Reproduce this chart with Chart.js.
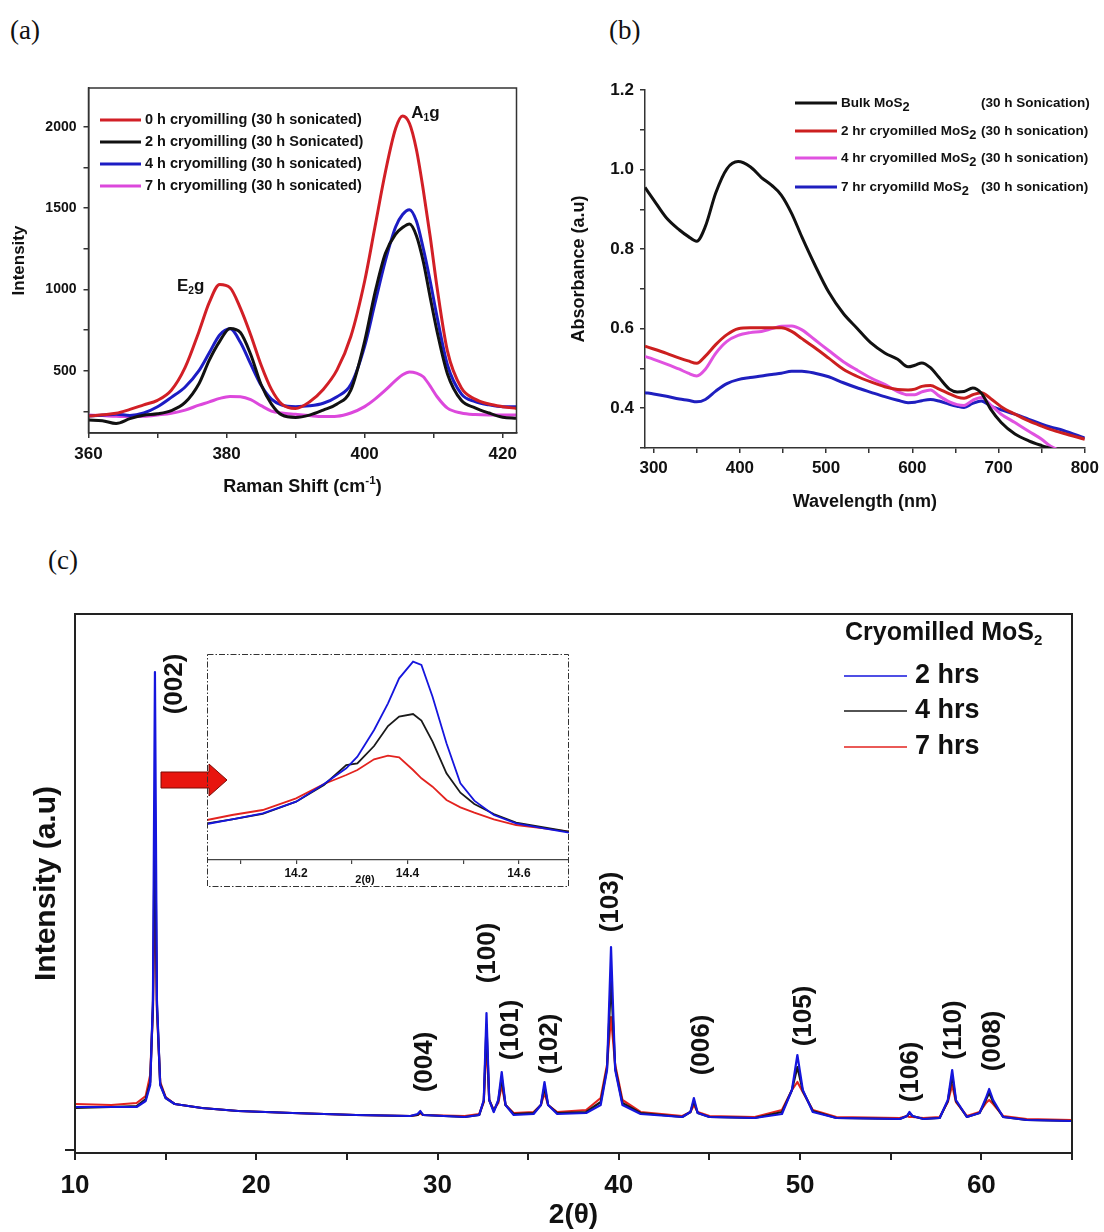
<!DOCTYPE html>
<html>
<head>
<meta charset="utf-8">
<script src="https://cdn.jsdelivr.net/npm/chart.js@4.4.1/dist/chart.umd.min.js"></script>
<style>
  body { margin: 0; background: #fff; width: 1104px; height: 1232px; position: relative; overflow: hidden; }
  canvas { position: absolute; }
  .panel { position: absolute; font-family: 'Liberation Serif', 'Times New Roman', serif; font-size: 27px; line-height: 30px; color: #111; }
</style>
</head>
<body>
<div class="panel" style="left:10px;top:15px">(a)</div>
<div class="panel" style="left:609px;top:15px">(b)</div>
<div class="panel" style="left:48px;top:545px">(c)</div>

<canvas id="ramanChart" width="560" height="460" style="left:0;top:60px"></canvas>
<canvas id="absChart" width="544" height="460" style="left:560px;top:60px"></canvas>
<canvas id="xrdChart" width="1104" height="642" style="left:0;top:590px"></canvas>
<canvas id="insetChart" width="362" height="233" style="left:207px;top:654px"></canvas>

<script>
'use strict';

const FONT = "'Liberation Sans', Arial, sans-serif";
Chart.defaults.font.family = FONT;
Chart.defaults.color = '#111';

/* -------------------- (a) Raman -------------------- */
const ramanShift = [360, 362, 364, 366, 368, 370, 372, 374, 376, 377.5, 379, 380.5, 382, 383.5, 385, 386.5, 388, 390, 392, 394,
  396, 398, 400, 401.5, 403, 404.5, 405.5, 406.5, 407.5, 408.5, 409.5, 410.5, 412, 414, 416, 418, 420, 422];
const raman0h = [221, 229, 238, 262, 290, 318, 380, 520, 740, 920, 1030, 1010, 885, 720, 535, 385, 295, 268, 308, 385,
  505, 710, 1050, 1385, 1720, 1990, 2066, 2020, 1860, 1610, 1324, 1010, 620, 395, 325, 295, 279, 268];
const raman2h = [197, 193, 176, 205, 226, 235, 255, 305, 420, 565, 680, 760, 735, 600, 415, 295, 228, 213, 227, 258,
  295, 380, 680, 980, 1221, 1340, 1380, 1402, 1330, 1170, 950, 740, 480, 318, 272, 240, 214, 207];
const raman4h = [221, 226, 232, 225, 240, 278, 336, 400, 500, 610, 720, 758, 675, 540, 410, 325, 289, 279, 284, 300,
  340, 415, 650, 915, 1175, 1385, 1460, 1490, 1420, 1250, 1050, 830, 535, 358, 310, 290, 279, 279];
const raman7h = [227, 224, 220, 218, 220, 228, 238, 258, 288, 308, 330, 342, 340, 322, 285, 252, 240, 232, 224, 218,
  220, 240, 279, 325, 380, 440, 475, 492, 485, 463, 405, 340, 270, 240, 230, 227, 227, 227];
const ramanLegend = ['0 h cryomilling (30 h sonicated)', '2 h cryomilling (30 h Sonicated)',
  '4 h cryomilling (30 h sonicated)', '7 h cryomilling (30 h sonicated)'];
const ramanXTicks = [360, 370, 380, 390, 400, 410, 420];
const ramanYTicks = [250, 500, 750, 1000, 1250, 1500, 1750, 2000];
const ramanPeakText = ['A_1g', 'E_2g'];
const ramanPeakShift = [408.8, 374.8];
const ramanPeakLevel = [2084, 1018];

/* -------------------- (b) UV-vis -------------------- */
const wavelength = [290, 300, 315, 330, 340, 350, 360, 372, 385, 398, 412, 425, 437, 448, 460, 472, 487, 503, 520, 535,
  552, 568, 583, 595, 603, 611, 621, 631, 643, 652, 660, 670, 680, 691, 703, 719, 735, 750, 760, 775, 800];
const absBulk = [0.955, 0.924, 0.878, 0.848, 0.832, 0.820, 0.857, 0.941, 1.002, 1.020, 1.007, 0.980, 0.960, 0.936, 0.890, 0.830, 0.760, 0.692, 0.638, 0.603,
  0.564, 0.539, 0.523, 0.504, 0.508, 0.514, 0.502, 0.477, 0.448, 0.441, 0.442, 0.451, 0.438, 0.397, 0.364, 0.335, 0.318, 0.306, 0.299, 0.288, 0.272];
const abs2hr = [0.556, 0.549, 0.538, 0.526, 0.519, 0.513, 0.531, 0.560, 0.585, 0.600, 0.602, 0.602, 0.602, 0.602, 0.593, 0.575, 0.552, 0.526, 0.498, 0.481,
  0.466, 0.454, 0.447, 0.446, 0.448, 0.455, 0.457, 0.448, 0.436, 0.428, 0.425, 0.434, 0.439, 0.424, 0.404, 0.385, 0.368, 0.355, 0.347, 0.337, 0.322];
const abs4hr = [0.530, 0.523, 0.511, 0.498, 0.488, 0.481, 0.498, 0.538, 0.568, 0.583, 0.590, 0.593, 0.600, 0.606, 0.607, 0.597, 0.572, 0.545, 0.517, 0.497,
  0.476, 0.460, 0.442, 0.434, 0.434, 0.441, 0.446, 0.431, 0.416, 0.409, 0.407, 0.420, 0.427, 0.408, 0.385, 0.364, 0.342, 0.322, 0.305, 0.290, 0.270];
const abs7hr = [0.439, 0.436, 0.430, 0.423, 0.420, 0.416, 0.422, 0.443, 0.462, 0.472, 0.477, 0.481, 0.485, 0.488, 0.493, 0.493, 0.488, 0.479, 0.464, 0.452,
  0.440, 0.429, 0.420, 0.414, 0.415, 0.419, 0.422, 0.418, 0.410, 0.405, 0.402, 0.412, 0.418, 0.405, 0.396, 0.385, 0.372, 0.360, 0.353, 0.344, 0.325];
const absLegendName = ['Bulk MoS_2', '2 hr cryomilled MoS_2', '4 hr cryomilled MoS_2', '7 hr cryomilld MoS_2'];
const absLegendNote = ['(30 h Sonication)', '(30 h sonication)', '(30 h sonication)', '(30 h sonication)'];
const absXTicks = [300, 350, 400, 450, 500, 550, 600, 650, 700, 750, 800];
const absYTicks = [0.3, 0.4, 0.5, 0.6, 0.7, 0.8, 0.9, 1.0, 1.1, 1.2];

/* -------------------- (c) XRD -------------------- */
const twoTheta = [10, 12, 13.4, 13.9, 14.15, 14.3, 14.41, 14.52, 14.7, 15.0, 15.5, 17, 19, 22, 25.5, 28.5, 28.9, 29.05, 29.2,
  31.5, 32.3, 32.55, 32.7, 32.85, 33.1, 33.35, 33.54, 33.75, 34.2, 35.3, 35.7, 35.9, 36.1, 36.6,
  38.2, 39.0, 39.35, 39.57, 39.8, 40.2, 41.2, 43.5, 43.95, 44.14, 44.35, 45, 47.5, 49.0, 49.55, 49.85, 50.15, 50.7, 52,
  55.5, 55.9, 56.03, 56.2, 56.8, 57.7, 58.15, 58.39, 58.6, 59.2, 59.9, 60.25, 60.43, 60.65, 61.2, 62.5, 65];
const xrd2hrs = [430, 430, 430, 490, 650, 1500, 4780, 1500, 650, 520, 460, 420, 390, 370, 350, 340, 360, 390, 350,
  330, 350, 500, 1370, 500, 380, 500, 780, 450, 350, 360, 450, 680, 450, 360,
  370, 450, 800, 2030, 800, 450, 360, 330, 380, 520, 370, 330, 320, 360, 600, 950, 600, 380, 320,
  310, 340, 380, 340, 310, 320, 500, 800, 500, 330, 370, 520, 610, 500, 330, 300, 290];
const xrd4hrs = [420, 430, 440, 510, 680, 1450, 3500, 1450, 660, 520, 460, 420, 390, 370, 350, 340, 350, 380, 350,
  330, 350, 490, 1250, 500, 390, 490, 720, 450, 360, 370, 450, 630, 450, 370,
  380, 480, 820, 1700, 820, 470, 370, 330, 380, 490, 370, 330, 320, 380, 600, 830, 590, 390, 320,
  310, 340, 370, 340, 310, 320, 490, 740, 490, 330, 370, 500, 570, 480, 330, 300, 290];
const xrd7hrs = [460, 450, 470, 540, 750, 1400, 2700, 1400, 680, 530, 460, 420, 390, 370, 350, 340, 350, 370, 350,
  340, 360, 480, 1100, 500, 400, 470, 650, 450, 370, 380, 450, 570, 450, 380,
  400, 520, 850, 1330, 850, 500, 380, 340, 380, 450, 380, 340, 330, 400, 600, 680, 580, 400, 330,
  320, 340, 330, 330, 320, 330, 480, 650, 480, 340, 380, 470, 500, 460, 340, 310, 300];
const xrdLegend = ['2 hrs', '4 hrs', '7 hrs'];
const xrdXTicks = [10, 15, 20, 25, 30, 35, 40, 45, 50, 55, 60, 65];
const peakNames = ['(002)', '(004)', '(100)', '(101)', '(102)', '(103)', '(006)', '(105)', '(106)', '(110)', '(008)'];
const peakAngle = [15.52, 29.3, 32.75, 34.04, 36.19, 39.56, 44.6, 50.18, 56.1, 58.5, 60.66];
const peakLevel = [4660, 880, 1970, 1200, 1060, 2480, 1050, 1340, 780, 1200, 1090];

// inset: zoom on the (002) reflection
const insetAngle = [14.04, 14.085, 14.14, 14.2, 14.25, 14.29, 14.31, 14.34, 14.365, 14.385, 14.41, 14.425, 14.445,
  14.47, 14.495, 14.52, 14.555, 14.595, 14.645, 14.69];
const inset2hrs = [108, 122, 140, 175, 228, 275, 310, 390, 470, 545, 595, 585, 490, 350, 230, 178, 135, 110, 95, 82];
const inset4hrs = [110, 122, 138, 175, 225, 285, 290, 342, 402, 430, 438, 418, 355, 260, 202, 168, 138, 112, 98, 85];
const inset7hrs = [120, 135, 150, 185, 228, 255, 270, 302, 313, 308, 270, 245, 220, 180, 158, 142, 122, 105, 95, 85];
const insetXTicks = [14.1, 14.2, 14.3, 14.4, 14.5, 14.6];

const ramanColors = ['#d21f26', '#111111', '#1c1cc4', '#dc48dc'];
const absColors = ['#111111', '#cc1f1f', '#e052e0', '#1f1fbf'];
const xrdColors = ['#1515dd', '#1a1a1a', '#e3231f'];

function pts(xs, ys) {
  return xs.map(function (x, i) { return {x: x, y: ys[i]}; });
}
function fixWidth(w) { return function (s) { s.width = w; }; }
function fixHeight(h) { return function (s) { s.height = h; }; }
function setTicks(list) { return function (s) { s.ticks = list.map(function (v) { return {value: v}; }); }; }

// text with _x / _{..} subscripts and ^{..} superscripts
function drawRich(ctx, text, x, y, size, align, subScale) {
  const sub = subScale || 0.7;
  const parts = [];
  const re = /_\{([^}]*)\}|\^\{([^}]*)\}|_(.)/g;
  let last = 0, m;
  while ((m = re.exec(text))) {
    if (m.index > last) parts.push({t: text.slice(last, m.index), dy: 0, s: 1});
    if (m[2] !== undefined) parts.push({t: m[2], dy: -0.35, s: 0.65});
    else parts.push({t: m[1] !== undefined ? m[1] : m[3], dy: 0.3, s: sub});
    last = re.lastIndex;
  }
  if (last < text.length) parts.push({t: text.slice(last), dy: 0, s: 1});
  let w = 0;
  parts.forEach(function (p) {
    ctx.font = 'bold ' + (size * p.s) + 'px ' + FONT;
    p.w = ctx.measureText(p.t).width;
    w += p.w;
  });
  let cx = align === 'center' ? x - w / 2 : (align === 'right' ? x - w : x);
  ctx.textAlign = 'left';
  ctx.textBaseline = 'middle';
  parts.forEach(function (p) {
    ctx.font = 'bold ' + (size * p.s) + 'px ' + FONT;
    ctx.fillText(p.t, cx, y + p.dy * size);
    cx += p.w;
  });
  return w;
}

function axisStyle(width) {
  return {
    grid: {drawOnChartArea: false, drawTicks: true, tickLength: 5, color: '#333', lineWidth: width},
    border: {display: true, color: '#333', width: width}
  };
}

const common = {
  responsive: false,
  animation: false,
  devicePixelRatio: 1,
  events: [],
  plugins: {legend: {display: false}, tooltip: {enabled: false}}
};

/* -------------------- draw (a) -------------------- */
new Chart(document.getElementById('ramanChart'), {
  type: 'scatter',
  data: {
    datasets: [raman0h, raman2h, raman4h, raman7h].map(function (d, i) {
      return {data: pts(ramanShift, d), showLine: true, pointRadius: 0, borderColor: ramanColors[i],
        borderWidth: 3, cubicInterpolationMode: 'monotone'};
    })
  },
  options: Object.assign({}, common, {
    layout: {padding: {top: 28, right: 43.5, left: 0, bottom: 0}},
    scales: {
      x: Object.assign(axisStyle(1.5), {
        min: 360, max: 422,
        afterBuildTicks: setTicks(ramanXTicks), afterFit: fixHeight(87),
        ticks: {autoSkip: false, maxRotation: 0, padding: 6, color: '#111', font: {size: 17, weight: 'bold'},
          callback: function (v) { return v % 20 === 0 ? v : ''; }}
      }),
      y: Object.assign(axisStyle(1.5), {
        min: 117, max: 2238,
        afterBuildTicks: setTicks(ramanYTicks), afterFit: fixWidth(88.5),
        ticks: {autoSkip: false, padding: 7, color: '#111', font: {size: 14, weight: 'bold'},
          callback: function (v) { return v % 500 === 0 ? v : ''; }},
        title: {display: true, text: 'Intensity', color: '#111', font: {size: 17, weight: 'bold'}, padding: {top: 9, bottom: 0}}
      })
    }
  }),
  plugins: [{
    id: 'ramanExtras',
    afterDraw: function (chart) {
      const ctx = chart.ctx, a = chart.chartArea;
      const sx = chart.scales.x, sy = chart.scales.y;
      ctx.save();
      ctx.strokeStyle = '#333';
      ctx.lineWidth = 1.5;
      ctx.strokeRect(a.left, a.top, a.right - a.left, a.bottom - a.top);
      ramanLegend.forEach(function (label, i) {
        const y = 60 + i * 22;
        ctx.strokeStyle = ramanColors[i];
        ctx.lineWidth = 3;
        ctx.beginPath();
        ctx.moveTo(100, y);
        ctx.lineTo(141, y);
        ctx.stroke();
        ctx.fillStyle = '#111';
        drawRich(ctx, label, 145, y, 14.5, 'left');
      });
      ramanPeakText.forEach(function (t, i) {
        drawRich(ctx, t, sx.getPixelForValue(ramanPeakShift[i]), sy.getPixelForValue(ramanPeakLevel[i]), 17, 'center', 0.6);
      });
      drawRich(ctx, 'Raman Shift (cm^{-1})', (a.left + a.right) / 2, 427, 18, 'center');
      ctx.restore();
    }
  }]
});

/* -------------------- draw (b) -------------------- */
new Chart(document.getElementById('absChart'), {
  type: 'scatter',
  data: {
    datasets: [absBulk, abs2hr, abs4hr, abs7hr].map(function (d, i) {
      return {data: pts(wavelength, d), showLine: true, pointRadius: 0, borderColor: absColors[i],
        borderWidth: 3, cubicInterpolationMode: 'monotone'};
    })
  },
  options: Object.assign({}, common, {
    layout: {padding: {top: 30, right: 14, left: 0, bottom: 0}},
    scales: {
      x: Object.assign(axisStyle(1.5), {
        min: 290, max: 800,
        afterBuildTicks: setTicks(absXTicks), afterFit: fixHeight(72),
        ticks: {autoSkip: false, maxRotation: 0, padding: 5, color: '#111', font: {size: 17, weight: 'bold'},
          callback: function (v) { return v % 100 === 0 ? v : ''; }},
        title: {display: true, text: 'Wavelength (nm)', color: '#111', font: {size: 18, weight: 'bold'}, padding: {top: 0, bottom: 7}}
      }),
      y: Object.assign(axisStyle(1.5), {
        min: 0.3, max: 1.2,
        afterBuildTicks: setTicks(absYTicks), afterFit: fixWidth(85),
        ticks: {autoSkip: false, padding: 6, color: '#111', font: {size: 17, weight: 'bold'},
          callback: function (v) { return Math.round(v * 10) % 2 === 0 ? v.toFixed(1) : ''; }},
        title: {display: true, text: 'Absorbance (a.u)', color: '#111', font: {size: 18, weight: 'bold'}, padding: {top: 8, bottom: 0}}
      })
    }
  }),
  plugins: [{
    id: 'absLegend',
    afterDraw: function (chart) {
      const ctx = chart.ctx;
      const rows = [43, 71, 98, 127];
      ctx.save();
      absLegendName.forEach(function (name, i) {
        ctx.strokeStyle = absColors[i];
        ctx.lineWidth = 3;
        ctx.beginPath();
        ctx.moveTo(235, rows[i]);
        ctx.lineTo(277, rows[i]);
        ctx.stroke();
        ctx.fillStyle = '#111';
        drawRich(ctx, name, 281, rows[i], 13.5, 'left', 0.95);
        drawRich(ctx, absLegendNote[i], 421, rows[i], 13.5, 'left');
      });
      ctx.restore();
    }
  }]
});

/* -------------------- draw (c) -------------------- */
new Chart(document.getElementById('xrdChart'), {
  type: 'scatter',
  data: {
    datasets: [xrd2hrs, xrd4hrs, xrd7hrs].map(function (d, i) {
      return {data: pts(twoTheta, d), showLine: true, pointRadius: 0, borderColor: xrdColors[i],
        borderWidth: 2.2, borderJoinStyle: 'round', tension: 0};
    })
  },
  options: Object.assign({}, common, {
    layout: {padding: {top: 24, right: 32, left: 0, bottom: 0}},
    scales: {
      x: {
        min: 10, max: 65,
        grid: {drawOnChartArea: false, drawTicks: true, tickLength: 7, color: '#222', lineWidth: 2},
        border: {display: true, color: '#222', width: 2},
        afterBuildTicks: setTicks(xrdXTicks), afterFit: fixHeight(79),
        ticks: {autoSkip: false, maxRotation: 0, padding: 10, color: '#111', font: {size: 26, weight: 'bold'},
          callback: function (v) { return v % 10 === 0 ? v : ''; }},
        title: {display: true, text: '2(\u03b8)', color: '#111', font: {size: 28, weight: 'bold'}, padding: {top: 0, bottom: 0}}
      },
      y: {
        min: -30, max: 5360,
        grid: {drawOnChartArea: false, drawTicks: true, tickLength: 10, color: '#222', lineWidth: 2},
        border: {display: true, color: '#222', width: 2},
        afterBuildTicks: setTicks([0]), afterFit: fixWidth(75),
        ticks: {padding: 0, callback: function () { return ''; }},
        title: {display: true, text: 'Intensity (a.u)', color: '#111', font: {size: 30, weight: 'bold'}, padding: {top: 29, bottom: 0}}
      }
    }
  }),
  plugins: [{
    id: 'xrdExtras',
    afterDraw: function (chart) {
      const ctx = chart.ctx, a = chart.chartArea;
      const sx = chart.scales.x, sy = chart.scales.y;
      ctx.save();
      ctx.strokeStyle = '#222';
      ctx.lineWidth = 2;
      ctx.strokeRect(a.left, a.top, a.right - a.left, a.bottom - a.top);

      // peak indices, rotated
      ctx.fillStyle = '#111';
      ctx.font = 'bold 26px ' + FONT;
      ctx.textAlign = 'center';
      ctx.textBaseline = 'middle';
      peakNames.forEach(function (name, i) {
        ctx.save();
        ctx.translate(sx.getPixelForValue(peakAngle[i]), sy.getPixelForValue(peakLevel[i]));
        ctx.rotate(-Math.PI / 2);
        ctx.fillText(name, 0, 0);
        ctx.restore();
      });

      // arrow pointing at the inset
      ctx.beginPath();
      ctx.moveTo(161, 182);
      ctx.lineTo(209, 182);
      ctx.lineTo(209, 174);
      ctx.lineTo(227, 190);
      ctx.lineTo(209, 206);
      ctx.lineTo(209, 198);
      ctx.lineTo(161, 198);
      ctx.closePath();
      ctx.fillStyle = '#e8150e';
      ctx.fill();
      ctx.strokeStyle = '#7a0a05';
      ctx.lineWidth = 1;
      ctx.stroke();

      // legend
      ctx.fillStyle = '#111';
      drawRich(ctx, 'Cryomilled MoS_2', 845, 43, 25, 'left', 0.6);
      const rows = [86, 121, 157];
      xrdLegend.forEach(function (label, i) {
        ctx.strokeStyle = xrdColors[i];
        ctx.lineWidth = 1.5;
        ctx.beginPath();
        ctx.moveTo(844, rows[i]);
        ctx.lineTo(907, rows[i]);
        ctx.stroke();
        drawRich(ctx, label, 915, rows[i], 27, 'left');
      });
      ctx.restore();
    }
  }]
});

/* -------------------- inset of (c) -------------------- */
new Chart(document.getElementById('insetChart'), {
  type: 'scatter',
  data: {
    datasets: [inset2hrs, inset4hrs, inset7hrs].map(function (d, i) {
      return {data: pts(insetAngle, d), showLine: true, pointRadius: 0, borderColor: xrdColors[i],
        borderWidth: 1.8, tension: 0};
    })
  },
  options: Object.assign({}, common, {
    layout: {padding: 0},
    scales: {
      x: {
        min: 14.04, max: 14.69,
        grid: {drawOnChartArea: false, drawTicks: true, tickLength: 4, color: '#444', lineWidth: 1.2},
        border: {display: true, color: '#444', width: 1.2},
        afterBuildTicks: setTicks(insetXTicks), afterFit: fixHeight(27),
        ticks: {autoSkip: false, maxRotation: 0, padding: 2, color: '#111', font: {size: 12, weight: 'bold'},
          callback: function (v) { return Math.round(v * 10) % 2 === 0 ? v.toFixed(1) : ''; }}
      },
      y: {display: false, min: 0, max: 618}
    }
  }),
  plugins: [{
    id: 'insetFrame',
    afterDraw: function (chart) {
      const ctx = chart.ctx;
      ctx.save();
      ctx.fillStyle = '#111';
      drawRich(ctx, '2(\u03b8)', 158, 226, 11, 'center');
      ctx.strokeStyle = '#333';
      ctx.lineWidth = 1;
      ctx.setLineDash([6, 2, 1.5, 2]);
      ctx.strokeRect(0.5, 0.5, chart.width - 1, chart.height - 1);
      ctx.restore();
    }
  }]
});
</script>
</body>
</html>
